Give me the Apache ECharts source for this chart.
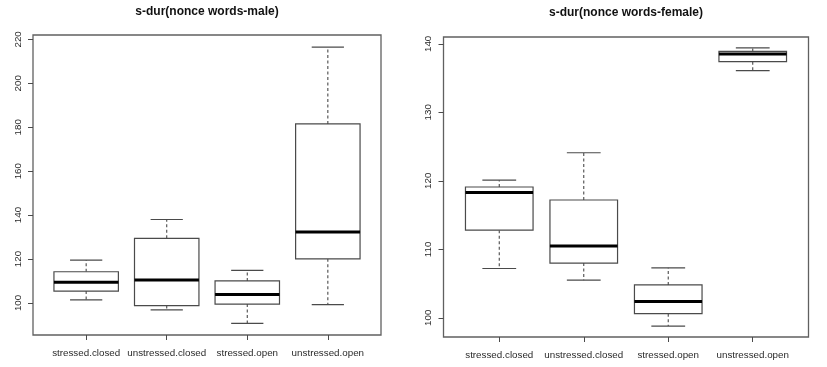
<!DOCTYPE html>
<html>
<head>
<meta charset="utf-8">
<script src="https://cdn.jsdelivr.net/npm/echarts@6/dist/echarts.min.js"></script>
<style>
html,body{margin:0;padding:0;background:#fff;}
#chart{width:827px;height:367px;}
</style>
</head>
<body>
<div id="chart"></div>
<script>
// ---- data ----
var categories = ['stressed.closed', 'unstressed.closed', 'stressed.open', 'unstressed.open'];

var maleTitle = 's-dur(nonce words-male)';
var maleLow    = [101.4, 96.8, 90.7, 99.2];
var maleQ1     = [105.4, 98.8, 99.5, 120.1];
var maleMedian = [109.4, 110.5, 103.8, 132.3];
var maleQ3     = [114.2, 129.4, 110.0, 181.5];
var maleHigh   = [119.5, 138.0, 114.8, 216.5];
var maleTicks  = [100, 120, 140, 160, 180, 200, 220];
var maleRange  = [85.4, 222.0];

var femaleTitle = 's-dur(nonce words-female)';
var femaleLow    = [107.2, 105.5, 98.8, 136.1];
var femaleQ1     = [112.8, 108.0, 100.6, 137.4];
var femaleMedian = [118.3, 110.5, 102.4, 138.5];
var femaleQ3     = [119.1, 117.2, 104.8, 138.9];
var femaleHigh   = [120.1, 124.1, 107.3, 139.4];
var femaleTicks  = [100, 110, 120, 130, 140];
var femaleRange  = [97.2, 141.0];

// ---- build ----
function rows(low, q1, med, q3, high) {
  return categories.map(function (c, i) { return [i, low[i], q1[i], med[i], q3[i], high[i]]; });
}

var LINE = '#4a4a4a';
var TEXT = '#2a2a2a';
var FONT = 'Liberation Sans, Arial, sans-serif';

function renderBox(params, api) {
  var x = api.value(0);
  var pLow = api.coord([x, api.value(1)]);
  var pQ1 = api.coord([x, api.value(2)]);
  var pMed = api.coord([x, api.value(3)]);
  var pQ3 = api.coord([x, api.value(4)]);
  var pHigh = api.coord([x, api.value(5)]);
  var band = api.size([1, 0])[0];
  var bw = band * 0.8;
  var cw = bw / 2;
  var cx = pMed[0];
  var solid = { stroke: LINE, lineWidth: 1.2, fill: null };
  var dashed = { stroke: LINE, lineWidth: 1.1, lineDash: [3, 2.5], fill: null };
  return {
    type: 'group',
    children: [
      { type: 'line', shape: { x1: cx, y1: pQ3[1], x2: cx, y2: pHigh[1] }, style: dashed },
      { type: 'line', shape: { x1: cx, y1: pQ1[1], x2: cx, y2: pLow[1] }, style: dashed },
      { type: 'line', shape: { x1: cx - cw / 2, y1: pHigh[1], x2: cx + cw / 2, y2: pHigh[1] }, style: solid },
      { type: 'line', shape: { x1: cx - cw / 2, y1: pLow[1], x2: cx + cw / 2, y2: pLow[1] }, style: solid },
      { type: 'rect', shape: { x: cx - bw / 2, y: pQ3[1], width: bw, height: pQ1[1] - pQ3[1] }, style: { stroke: LINE, lineWidth: 1.2, fill: '#fff' } },
      { type: 'line', shape: { x1: cx - bw / 2, y1: pMed[1], x2: cx + bw / 2, y2: pMed[1] }, style: { stroke: '#000', lineWidth: 3 } }
    ]
  };
}

// panel frames (R plot boxes) and inner data grids
var panels = [
  { frame: { left: 33, top: 35, width: 348, height: 300 }, title: maleTitle, ticks: maleTicks, range: maleRange,
    data: rows(maleLow, maleQ1, maleMedian, maleQ3, maleHigh) },
  { frame: { left: 443.5, top: 37, width: 365, height: 300 }, title: femaleTitle, ticks: femaleTicks, range: femaleRange,
    data: rows(femaleLow, femaleQ1, femaleMedian, femaleQ3, femaleHigh) }
];

var grid = [], xAxis = [], yAxis = [], series = [], title = [];
panels.forEach(function (p, k) {
  var f = p.frame;
  var band = f.width / 4.32;
  var inset = band * 0.16;
  grid.push({ left: f.left, top: f.top, width: f.width, height: f.height, show: true,
    borderColor: '#606060', borderWidth: 1.3, backgroundColor: 'transparent', containLabel: false });
  grid.push({ left: f.left + inset, top: f.top, width: f.width - 2 * inset, height: f.height, containLabel: false });
  var gFrame = 2 * k, gData = 2 * k + 1;
  xAxis.push({ gridIndex: gFrame, type: 'value', show: false, min: 0, max: 1 });
  yAxis.push({ gridIndex: gFrame, type: 'value', show: false, min: 0, max: 1 });
  xAxis.push({
    gridIndex: gData, type: 'category', data: categories, boundaryGap: true, position: 'bottom',
    axisLine: { show: false },
    axisTick: { show: true, alignWithLabel: true, length: 5, lineStyle: { color: LINE, width: 1 } },
    axisLabel: { color: TEXT, fontFamily: FONT, fontSize: 9.8, margin: 13, interval: 0 },
    splitLine: { show: false }
  });
  yAxis.push({
    gridIndex: gData, type: 'value', min: p.range[0], max: p.range[1], offset: inset,
    axisLine: { show: false },
    axisTick: { show: true, length: 5, customValues: p.ticks, lineStyle: { color: LINE, width: 1 } },
    axisLabel: { color: TEXT, fontFamily: FONT, fontSize: 9.8, rotate: 90, margin: 10, customValues: p.ticks },
    splitLine: { show: false }
  });
  series.push({
    type: 'custom', xAxisIndex: 2 * k + 1, yAxisIndex: 2 * k + 1,
    renderItem: renderBox, data: p.data, encode: { x: 0, y: [1, 2, 3, 4, 5] }, silent: true, clip: false
  });
  title.push({ text: p.title, left: f.left + f.width / 2, textAlign: 'center', top: 6 + k, padding: 0,
    textStyle: { fontFamily: FONT, fontSize: 12, fontWeight: 'bold', color: '#111' } });
});

var chart = echarts.init(document.getElementById('chart'), null, { renderer: 'canvas' });
chart.setOption({
  animation: false,
  backgroundColor: '#ffffff',
  title: title,
  grid: grid,
  xAxis: xAxis,
  yAxis: yAxis,
  series: series
});
</script>
</body>
</html>
